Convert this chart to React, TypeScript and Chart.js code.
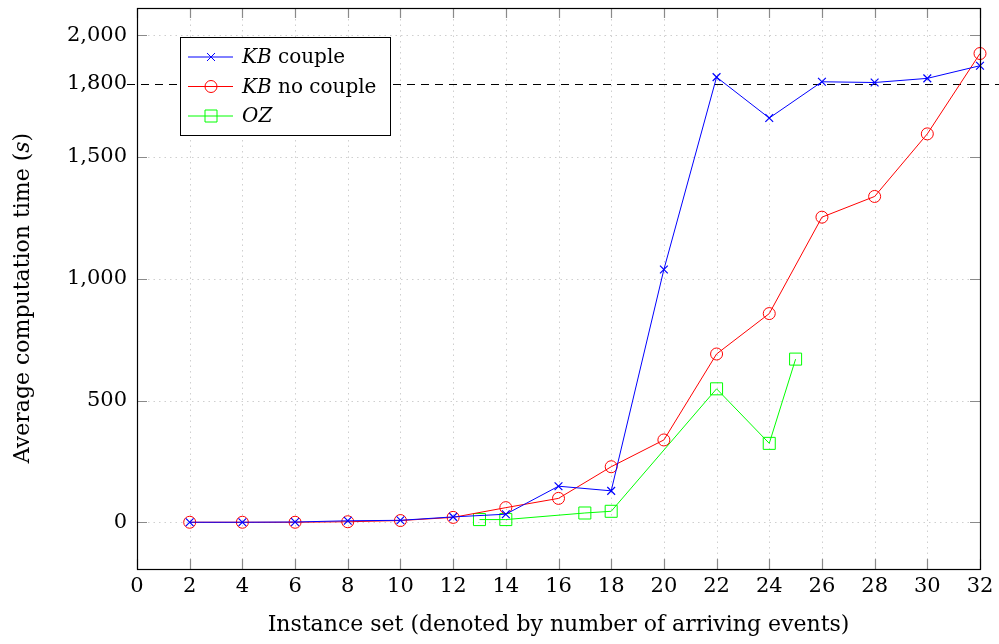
import React, { useEffect, useRef } from "react";
import { Chart, registerables } from "chart.js";

Chart.register(...registerables);

// ---- data ----
const xKB = [2, 4, 6, 8, 10, 12, 14, 16, 18, 20, 22, 24, 26, 28, 30, 32];
const kbCouple = [0, 0, 1, 6, 8, 22, 33, 148, 129, 1038, 1828, 1660, 1809, 1806, 1823, 1875];
const kbNoCouple = [0, 0, 0, 2, 7, 20, 60, 98, 228, 338, 691, 857, 1253, 1338, 1595, 1925];
const xOZ = [13, 14, 17, 18, 22, 24, 25];
const oz = [11, 11, 38, 45, 548, 324, 670];
const xTicks = [0, 2, 4, 6, 8, 10, 12, 14, 16, 18, 20, 22, 24, 26, 28, 30, 32];
const yTicks = [0, 500, 1000, 1500, 1800, 2000];
const yGrid = [0, 500, 1000, 1500, 2000];
const timeLimit = 1800;
const xTitle = "Instance set (denoted by number of arriving events)";
const yTitleMain = "Average computation time (";
const yTitleItalic = "s";
const yTitleEnd = ")";

const FONT = "DejaVu Serif";
const FS = 20;
const TICK_FS = 21;
const TITLE_FS = 22;

const decoPlugin = {
  id: "deco",
  beforeDatasetsDraw(chart: any) {
    const { ctx, chartArea: a, scales } = chart;
    const xs = scales.x;
    const ys = scales.y;
    ctx.save();
    // dotted grid
    ctx.strokeStyle = "#cfcfcf";
    ctx.lineWidth = 1;
    ctx.setLineDash([1.5, 4]);
    xTicks.forEach((v) => {
      const px = Math.round(xs.getPixelForValue(v)) + 0.5;
      if (px <= a.left + 1 || px >= a.right - 1) return;
      ctx.beginPath();
      ctx.moveTo(px, a.top);
      ctx.lineTo(px, a.bottom);
      ctx.stroke();
    });
    yGrid.forEach((v) => {
      const py = Math.round(ys.getPixelForValue(v)) + 0.5;
      ctx.beginPath();
      ctx.moveTo(a.left, py);
      ctx.lineTo(a.right, py);
      ctx.stroke();
    });
    ctx.setLineDash([]);
    // inside ticks
    ctx.strokeStyle = "#8a8a8a";
    ctx.lineWidth = 1.2;
    const tl = 10;
    xTicks.forEach((v) => {
      const px = Math.round(xs.getPixelForValue(v)) + 0.5;
      ctx.beginPath();
      ctx.moveTo(px, a.bottom);
      ctx.lineTo(px, a.bottom - tl);
      ctx.moveTo(px, a.top);
      ctx.lineTo(px, a.top + tl);
      ctx.stroke();
    });
    yGrid.forEach((v) => {
      const py = Math.round(ys.getPixelForValue(v)) + 0.5;
      ctx.beginPath();
      ctx.moveTo(a.left, py);
      ctx.lineTo(a.left + tl, py);
      ctx.moveTo(a.right, py);
      ctx.lineTo(a.right - tl, py);
      ctx.stroke();
    });
    // dashed time limit line
    const ly = Math.round(ys.getPixelForValue(timeLimit)) + 0.5;
    ctx.strokeStyle = "#000";
    ctx.lineWidth = 1;
    ctx.setLineDash([8, 6]);
    ctx.beginPath();
    ctx.moveTo(a.left - 10, ly);
    ctx.lineTo(chart.width, ly);
    ctx.stroke();
    ctx.setLineDash([]);
    ctx.restore();
  },
  afterDraw(chart: any) {
    const { ctx, chartArea: a } = chart;
    ctx.save();
    // frame
    ctx.strokeStyle = "#000";
    ctx.lineWidth = 1.2;
    ctx.strokeRect(Math.round(a.left) + 0.5, Math.round(a.top) + 0.5, Math.round(a.right - a.left), Math.round(a.bottom - a.top));

    // legend
    const lx = 180, ly = 37, lw = 210, lh = 98;
    ctx.fillStyle = "#fff";
    ctx.fillRect(lx, ly, lw, lh);
    ctx.strokeStyle = "#000";
    ctx.lineWidth = 1;
    ctx.strokeRect(lx + 0.5, ly + 0.5, lw, lh);
    const ds = chart.data.datasets;
    const rows = [
      { it: "KB", rest: " couple" },
      { it: "KB", rest: " no couple" },
      { it: "OZ", rest: "" },
    ];
    rows.forEach((r, i) => {
      const y = ly + 20 + i * 29.5;
      const d = ds[i];
      ctx.strokeStyle = d.borderColor;
      ctx.lineWidth = 1;
      ctx.beginPath();
      ctx.moveTo(188, y);
      ctx.lineTo(233, y);
      ctx.stroke();
      const mx = 211;
      ctx.beginPath();
      if (d.pointStyle === "crossRot") {
        const o = 4;
        ctx.moveTo(mx - o, y - o);
        ctx.lineTo(mx + o, y + o);
        ctx.moveTo(mx + o, y - o);
        ctx.lineTo(mx - o, y + o);
      } else if (d.pointStyle === "circle") {
        ctx.arc(mx, y, 6, 0, Math.PI * 2);
      } else {
        ctx.rect(mx - 6, y - 6, 12, 12);
      }
      ctx.stroke();
      ctx.fillStyle = "#000";
      ctx.textBaseline = "middle";
      ctx.textAlign = "left";
      ctx.font = `italic ${FS}px "${FONT}"`;
      ctx.fillText(r.it, 242, y + 1);
      const w = ctx.measureText(r.it).width;
      ctx.font = `${FS}px "${FONT}"`;
      ctx.fillText(r.rest, 242 + w, y + 1);
    });

    // x title
    ctx.fillStyle = "#000";
    ctx.font = `${TITLE_FS}px "${FONT}"`;
    ctx.textAlign = "center";
    ctx.textBaseline = "middle";
    ctx.fillText(xTitle, (a.left + a.right) / 2, 625);

    // y title (rotated, italic s)
    ctx.translate(23, 298);
    ctx.rotate(-Math.PI / 2);
    ctx.font = `${TITLE_FS}px "${FONT}"`;
    const w1 = ctx.measureText(yTitleMain).width;
    const w3 = ctx.measureText(yTitleEnd).width;
    ctx.font = `italic ${TITLE_FS}px "${FONT}"`;
    const w2 = ctx.measureText(yTitleItalic).width;
    const total = w1 + w2 + w3;
    const x0 = -total / 2;
    ctx.textAlign = "left";
    ctx.font = `${TITLE_FS}px "${FONT}"`;
    ctx.fillText(yTitleMain, x0, 0);
    ctx.font = `italic ${TITLE_FS}px "${FONT}"`;
    ctx.fillText(yTitleItalic, x0 + w1, 0);
    ctx.font = `${TITLE_FS}px "${FONT}"`;
    ctx.fillText(yTitleEnd, x0 + w1 + w2, 0);
    ctx.restore();
  },
};

export default function App() {
  const ref = useRef<HTMLCanvasElement>(null);
  useEffect(() => {
    const canvas = ref.current;
    if (!canvas) return;
    const chart = new Chart(canvas, {
      type: "line",
      data: {
        datasets: [
          {
            label: "KB couple",
            data: xKB.map((x, i) => ({ x, y: kbCouple[i] })),
            borderColor: "#0000ff",
            backgroundColor: "#0000ff",
            borderWidth: 1,
            pointStyle: "crossRot",
            pointRadius: 5.5,
            pointBorderWidth: 1.2,
            pointBorderColor: "#0000ff",
            pointBackgroundColor: "transparent",
            tension: 0,
            clip: 12,
          },
          {
            label: "KB no couple",
            data: xKB.map((x, i) => ({ x, y: kbNoCouple[i] })),
            borderColor: "#ff0000",
            backgroundColor: "#ff0000",
            borderWidth: 1,
            pointStyle: "circle",
            pointRadius: 6,
            pointBorderWidth: 1,
            pointBorderColor: "#ff0000",
            pointBackgroundColor: "transparent",
            tension: 0,
            clip: 12,
          },
          {
            label: "OZ",
            data: xOZ.map((x, i) => ({ x, y: oz[i] })),
            borderColor: "#00ff00",
            backgroundColor: "#00ff00",
            borderWidth: 1,
            pointStyle: "rect",
            pointRadius: 8.5,
            pointBorderWidth: 1,
            pointBorderColor: "#00ff00",
            pointBackgroundColor: "transparent",
            tension: 0,
            clip: 12,
          },
        ] as any,
      },
      options: {
        responsive: false,
        animation: false,
        devicePixelRatio: 1,
        layout: { autoPadding: false, padding: { top: 8, right: 19, left: 0, bottom: 0 } },
        plugins: {
          legend: { display: false },
          tooltip: { enabled: false },
        },
        scales: {
          x: {
            type: "linear",
            min: 0,
            max: 32,
            grid: { display: false, drawTicks: false },
            border: { display: false },
            afterBuildTicks: (s: any) => {
              s.ticks = xTicks.map((v) => ({ value: v }));
            },
            afterFit: (s: any) => {
              s.height = 75;
              s.paddingLeft = 0;
              s.paddingRight = 0;
              s.paddingTop = 0;
              s.paddingBottom = 0;
            },
            ticks: {
              color: "#000",
              padding: 5,
              maxRotation: 0,
              autoSkip: false,
              font: { family: FONT, size: TICK_FS },
              callback: (v: any) => String(v),
            },
          },
          y: {
            type: "linear",
            min: -192,
            max: 2112,
            grid: { display: false, drawTicks: false },
            border: { display: false },
            afterBuildTicks: (s: any) => {
              s.ticks = yTicks.map((v) => ({ value: v }));
            },
            afterFit: (s: any) => {
              s.width = 137;
              s.paddingLeft = 0;
              s.paddingRight = 0;
              s.paddingTop = 0;
              s.paddingBottom = 0;
            },
            ticks: {
              color: "#000",
              padding: 10,
              autoSkip: false,
              font: { family: FONT, size: TICK_FS },
              callback: (v: any) => Number(v).toLocaleString("en-US"),
            },
          },
        },
      } as any,
      plugins: [decoPlugin],
    });
    return () => chart.destroy();
  }, []);
  return (
    <div style={{ position: "fixed", left: 0, top: 0, width: 999, height: 644, background: "#fff" }}>
      <canvas ref={ref} width={999} height={644} style={{ display: "block" }} />
    </div>
  );
}
